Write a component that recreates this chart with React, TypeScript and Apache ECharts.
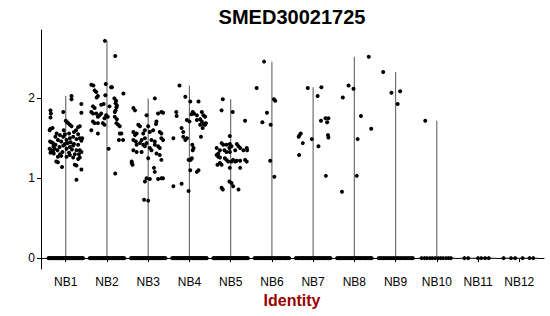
import React, { useEffect, useRef } from 'react';
import * as echarts from 'echarts';

const title = 'SMED30021725';
const xAxisTitle = 'Identity';
const categories = ['NB1', 'NB2', 'NB3', 'NB4', 'NB5', 'NB6', 'NB7', 'NB8', 'NB9', 'NB10', 'NB11', 'NB12'];
const yTicks = [0, 1, 2];

// non-zero cells: [horizontal jitter, expression]
const nb1Points: [number, number][] = [
  [0.14, 2.03], [0.14, 1.99], [0.38, 1.93], [-0.06, 1.83], [-0.37, 1.85], [-0.36, 1.81], [-0.37, 1.76], [0.38, 1.82],
  [0.0, 1.72], [0.06, 1.69], [0.03, 1.7], [-0.37, 1.62], [-0.39, 1.6], [-0.32, 1.63], [0.14, 1.65], [0.1, 1.67],
  [0.34, 1.65], [0.3, 1.64], [-0.22, 1.56], [-0.14, 1.54], [-0.06, 1.52], [-0.02, 1.55], [-0.38, 1.46], [-0.35, 1.45],
  [-0.31, 1.44], [-0.19, 1.48], [-0.11, 1.46], [0.02, 1.48], [0.1, 1.5], [0.18, 1.52], [0.26, 1.49], [0.34, 1.5],
  [0.38, 1.47], [0.4, 1.5], [-0.39, 1.37], [-0.35, 1.35], [-0.31, 1.33], [-0.27, 1.37], [-0.15, 1.39], [-0.06, 1.41],
  [0.02, 1.37], [0.1, 1.39], [0.18, 1.41], [0.26, 1.35], [0.34, 1.35], [0.38, 1.33], [-0.37, 1.32], [-0.32, 1.34],
  [-0.29, 1.31], [-0.19, 1.27], [-0.11, 1.28], [0.02, 1.27], [0.1, 1.29], [0.18, 1.26], [0.3, 1.24], [0.34, 1.26],
  [-0.23, 1.21], [-0.19, 1.2], [-0.09, 1.14], [0.22, 1.17], [0.26, 1.16], [0.38, 1.11], [0.26, 0.98],
  [-0.25, 1.42], [-0.2, 1.35], [-0.08, 1.33], [0.05, 1.44], [0.12, 1.45], [0.2, 1.43], [0.3, 1.42], [-0.3, 1.4],
  [0.08, 1.32], [0.15, 1.36], [-0.02, 1.43], [0.22, 1.3], [-0.14, 1.3], [0.32, 1.3], [-0.05, 1.6], [0.2, 1.58],
  [0.25, 1.6], [-0.25, 1.52], [0.08, 1.56], [0.3, 1.55],
];
const nb2Points: [number, number][] = [
  [-0.05, 2.72], [0.2, 2.53], [-0.33, 2.16], [0.12, 2.14], [-0.38, 2.17], [-0.03, 2.18], [0.1, 2.14], [-0.3, 2.1],
  [-0.26, 2.08], [-0.22, 2.03], [-0.25, 2.01], [-0.04, 2.04], [0.18, 2.0], [0.22, 1.97], [0.21, 1.94], [0.24, 1.91],
  [0.4, 2.06], [-0.34, 1.9], [-0.3, 1.88], [-0.14, 1.92], [-0.08, 1.93], [0.06, 1.9], [0.23, 1.89], [0.21, 1.85],
  [0.19, 1.83], [-0.38, 1.83], [-0.34, 1.81], [-0.26, 1.81], [-0.18, 1.79], [-0.14, 1.81], [-0.22, 1.77], [-0.02, 1.79],
  [0.02, 1.77], [-0.06, 1.75], [0.19, 1.77], [0.24, 1.74], [-0.34, 1.71], [-0.3, 1.69], [-0.22, 1.69], [-0.1, 1.69],
  [-0.06, 1.67], [0.23, 1.69], [0.27, 1.67], [0.31, 1.65], [-0.38, 1.6], [-0.22, 1.56], [0.31, 1.56], [0.35, 1.56],
  [0.29, 1.48], [0.39, 1.48], [0.04, 1.37], [0.2, 1.06],
];
const nb3Points: [number, number][] = [
  [0.16, 2.0], [-0.36, 1.88], [-0.32, 1.85], [-0.04, 1.79], [0.24, 1.81], [0.32, 1.83], [0.36, 1.82], [-0.24, 1.67],
  [-0.2, 1.65], [0, 1.65], [0.2, 1.71], [0.19, 1.68], [-0.36, 1.58], [-0.28, 1.56], [-0.32, 1.54], [-0.12, 1.56],
  [-0.08, 1.6], [0.04, 1.58], [0.12, 1.6], [0.28, 1.58], [0.32, 1.56], [-0.36, 1.48], [-0.3, 1.46], [-0.16, 1.48],
  [-0.08, 1.5], [0.08, 1.48], [0.16, 1.46], [0.32, 1.5], [0.36, 1.48], [-0.28, 1.42], [-0.2, 1.44], [-0.12, 1.42],
  [-0.04, 1.44], [-0.08, 1.4], [0.16, 1.42], [0.24, 1.4], [0.28, 1.38], [-0.36, 1.35], [-0.28, 1.33], [-0.16, 1.33],
  [0.04, 1.38], [0.08, 1.35], [0.2, 1.31], [0.28, 1.29], [0, 1.25], [-0.4, 1.21], [-0.38, 1.17], [-0.4, 1.19],
  [0.32, 1.23], [0.14, 1.13], [0.16, 1.08], [-0.04, 1.0], [0.04, 0.99], [-0.08, 0.96], [0.24, 0.99], [0.32, 1.0],
  [0.36, 1.0], [-0.1, 0.73], [0, 0.72],
];
const nb4Points: [number, number][] = [
  [-0.24, 2.16], [-0.1, 2.02], [0.22, 1.96], [0.02, 1.96], [-0.32, 1.83], [-0.31, 1.78], [0.08, 1.83], [0.11, 1.81],
  [0.05, 1.8], [0.18, 1.79], [0.3, 1.83], [0.34, 1.79], [0.38, 1.77], [-0.06, 1.73], [0, 1.71], [0.18, 1.73],
  [0.26, 1.74], [0.3, 1.71], [0.34, 1.68], [0.26, 1.67], [0.38, 1.67], [0.4, 1.69], [0.32, 1.63], [-0.19, 1.63],
  [-0.15, 1.58], [-0.15, 1.52], [-0.06, 1.5], [-0.1, 1.48], [-0.39, 1.5], [0.28, 1.52], [0.07, 1.42], [0.1, 1.38],
  [0.08, 1.35], [0.06, 1.25], [0.03, 1.23], [-0.02, 1.23], [0.22, 1.1], [0.18, 1.08], [0.02, 1.1], [-0.39, 0.9],
  [-0.19, 0.93], [-0.02, 0.84],
];
const nb5Points: [number, number][] = [
  [-0.19, 1.99], [-0.22, 1.85], [0.05, 1.83], [0.35, 1.72], [-0.02, 1.53], [-0.22, 1.44], [-0.18, 1.42], [-0.1, 1.42],
  [-0.02, 1.43], [0.02, 1.4], [-0.03, 1.38], [0.15, 1.43], [0.19, 1.4], [-0.34, 1.38], [-0.26, 1.35], [-0.3, 1.31],
  [-0.15, 1.35], [-0.1, 1.33], [-0.02, 1.33], [0.11, 1.35], [0.23, 1.38], [0.31, 1.35], [0.39, 1.38], [0.4, 1.35],
  [-0.34, 1.29], [-0.3, 1.27], [-0.26, 1.26], [-0.14, 1.25], [-0.1, 1.23], [-0.06, 1.21], [0.02, 1.21], [0.06, 1.23],
  [0.11, 1.21], [0.15, 1.22], [0.23, 1.22], [0.35, 1.23], [0.39, 1.21], [-0.32, 1.17], [-0.26, 1.19], [-0.22, 1.17],
  [-0.02, 1.13], [0.23, 1.13], [-0.22, 0.88], [-0.19, 0.86], [-0.03, 0.96], [0.02, 0.94], [0.06, 0.9], [0.19, 0.86],
];
const nb6Points: [number, number][] = [
  [-0.19, 2.46], [-0.37, 2.13], [0.05, 1.99], [0.08, 1.97], [-0.12, 1.82], [-0.23, 1.7], [-0.03, 1.67], [-0.04, 1.22],
  [0.06, 1.02],
];
const nb7Points: [number, number][] = [
  [-0.13, 2.13], [0.2, 2.14], [0.11, 2.03], [0.19, 1.72], [0.3, 1.75], [0.37, 1.75], [0.34, 1.7], [-0.3, 1.56],
  [-0.33, 1.54], [-0.35, 1.52], [-0.25, 1.44], [-0.03, 1.49], [0.36, 1.54], [0.37, 1.51], [0.13, 1.4], [-0.34, 1.29],
  [0.31, 1.03],
];
const nb8Points: [number, number][] = [
  [0.35, 2.52], [-0.14, 2.16], [-0.02, 2.12], [-0.28, 2.01], [0.16, 1.78], [0.41, 1.62], [0.08, 1.49], [0.06, 1.03],
  [-0.3, 0.83],
];
const nb9Points: [number, number][] = [[-0.3, 2.33], [-0.1, 2.07], [0.11, 2.09], [0.05, 1.93]];
const nb10Points: [number, number][] = [[-0.28, 1.72]];
const nb11Points: [number, number][] = [];
const nb12Points: [number, number][] = [];

// cells with zero expression: horizontal jitter only
const nb1Zero = [-0.42, -0.4, -0.37, -0.35, -0.33, -0.3, -0.28, -0.26, -0.23, -0.21, -0.19, -0.16, -0.14, -0.12, -0.09, -0.07, -0.05, -0.02, 0.0, 0.03, 0.05, 0.07, 0.1, 0.12, 0.14, 0.17, 0.19, 0.21, 0.24, 0.26, 0.28, 0.31, 0.33, 0.35, 0.38, 0.4, 0.42];
const nb2Zero = [-0.42, -0.39, -0.37, -0.34, -0.32, -0.3, -0.27, -0.25, -0.22, -0.2, -0.18, -0.15, -0.13, -0.1, -0.08, -0.06, -0.03, -0.01, 0.02, 0.04, 0.06, 0.09, 0.11, 0.13, 0.16, 0.18, 0.21, 0.23, 0.25, 0.28, 0.3, 0.32, 0.35, 0.37, 0.39, 0.42];
const nb3Zero = [-0.42, -0.4, -0.38, -0.35, -0.33, -0.31, -0.28, -0.26, -0.24, -0.21, -0.19, -0.17, -0.14, -0.12, -0.1, -0.07, -0.05, -0.03, 0.0, 0.02, 0.05, 0.07, 0.09, 0.12, 0.14, 0.16, 0.19, 0.21, 0.23, 0.26, 0.28, 0.3, 0.33, 0.35, 0.37, 0.4, 0.42];
const nb4Zero = [-0.42, -0.39, -0.37, -0.35, -0.32, -0.3, -0.28, -0.25, -0.23, -0.21, -0.18, -0.16, -0.13, -0.11, -0.09, -0.06, -0.04, -0.02, 0.01, 0.03, 0.06, 0.08, 0.1, 0.13, 0.15, 0.17, 0.2, 0.22, 0.24, 0.27, 0.29, 0.31, 0.34, 0.36, 0.38, 0.41, 0.42];
const nb5Zero = [-0.42, -0.4, -0.38, -0.36, -0.33, -0.31, -0.29, -0.26, -0.24, -0.22, -0.19, -0.17, -0.15, -0.12, -0.1, -0.08, -0.05, -0.03, 0.0, 0.02, 0.04, 0.07, 0.09, 0.11, 0.14, 0.16, 0.18, 0.21, 0.23, 0.25, 0.28, 0.3, 0.32, 0.35, 0.37, 0.39, 0.42];
const nb6Zero = [-0.42, -0.39, -0.36, -0.33, -0.3, -0.27, -0.24, -0.21, -0.18, -0.15, -0.12, -0.09, -0.06, -0.03, 0.0, 0.03, 0.06, 0.09, 0.12, 0.15, 0.18, 0.21, 0.24, 0.27, 0.3, 0.33, 0.36, 0.39, 0.42];
const nb7Zero = [-0.42, -0.38, -0.35, -0.32, -0.29, -0.26, -0.23, -0.2, -0.17, -0.14, -0.11, -0.08, -0.05, -0.02, 0.01, 0.04, 0.07, 0.1, 0.13, 0.16, 0.19, 0.22, 0.25, 0.28, 0.31, 0.34, 0.37, 0.4, 0.42];
const nb8Zero = [-0.42, -0.39, -0.36, -0.33, -0.3, -0.27, -0.24, -0.21, -0.18, -0.15, -0.12, -0.09, -0.06, -0.03, 0.0, 0.03, 0.06, 0.09, 0.12, 0.15, 0.18, 0.21, 0.24, 0.27, 0.3, 0.33, 0.36, 0.39, 0.42];
const nb9Zero = [-0.41, -0.37, -0.33, -0.29, -0.25, -0.21, -0.17, -0.13, -0.09, -0.05, -0.01, 0.03, 0.07, 0.11, 0.15, 0.19, 0.23, 0.27, 0.31, 0.35, 0.39, 0.42];
const nb10Zero = [-0.37, -0.3, -0.24, -0.17, -0.11, -0.04, 0.03, 0.09, 0.15, 0.22, 0.28, 0.34];
const nb11Zero = [-0.33, -0.24, 0.0, 0.08, 0.17, 0.26];
const nb12Zero = [-0.38, -0.2, -0.1, 0.08, 0.25, 0.34];

const groupPoints = [nb1Points, nb2Points, nb3Points, nb4Points, nb5Points, nb6Points, nb7Points, nb8Points, nb9Points, nb10Points, nb11Points, nb12Points];
const groupZeros = [nb1Zero, nb2Zero, nb3Zero, nb4Zero, nb5Zero, nb6Zero, nb7Zero, nb8Zero, nb9Zero, nb10Zero, nb11Zero, nb12Zero];

const FONT = "'Liberation Sans', Arial, Helvetica, sans-serif";

export default function App() {
  const ref = useRef<HTMLDivElement>(null);
  useEffect(() => {
    if (!ref.current) return;
    const chart = echarts.init(ref.current, null, { renderer: 'svg' });

    const allValues = groupPoints.flatMap((g) => g.map((p) => p[1]));
    const dataMax = Math.max(...allValues);
    const pad = dataMax * 0.05;

    const nonZero = groupPoints.flatMap((g, i) => g.map(([j, v]) => [i + 1 + j, v]));
    const zeros = groupZeros.flatMap((g, i) => g.map((j) => [i + 1 + j, 0]));
    const violins = groupPoints.map((g, i) => [i + 1, g.length ? Math.max(...g.map((p) => p[1])) : 0]);
    const catPositions = categories.map((_, i) => i + 1);

    chart.setOption({
      animation: false,
      textStyle: { fontFamily: FONT },
      grid: { left: 41, right: 6, top: 30, bottom: 47, containLabel: false },
      xAxis: {
        type: 'value',
        min: 0.4,
        max: categories.length + 0.6,
        splitLine: { show: false },
        axisLine: { show: true, lineStyle: { color: '#000', width: 1 } },
        axisTick: { show: true, length: 4, customValues: catPositions, lineStyle: { color: '#000' } },
        axisLabel: {
          customValues: catPositions,
          formatter: (v: number) => categories[Math.round(v) - 1] ?? '',
          color: '#000',
          fontSize: 12,
          margin: 7,
          fontFamily: FONT,
        },
      },
      yAxis: {
        type: 'value',
        min: -pad,
        max: dataMax + pad,
        splitLine: { show: false },
        axisLine: { show: true, lineStyle: { color: '#000', width: 1 } },
        axisTick: { show: true, length: 4, customValues: yTicks, lineStyle: { color: '#000' } },
        axisLabel: { customValues: yTicks, color: '#000', fontSize: 12, margin: 6, fontFamily: FONT },
      },
      graphic: [
        {
          type: 'text',
          x: 292,
          y: 17,
          style: { text: title, font: `bold 20px ${FONT}`, fill: '#000', textAlign: 'center', textVerticalAlign: 'middle' },
        },
        {
          type: 'text',
          x: 292,
          y: 300,
          style: { text: xAxisTitle, font: `bold 16px ${FONT}`, fill: '#990000', textAlign: 'center', textVerticalAlign: 'middle' },
        },
      ],
      series: [
        {
          type: 'custom',
          data: violins,
          z: 1,
          renderItem: (params: any, api: any) => {
            const x = api.value(0);
            const top = api.value(1);
            const base = api.coord([x, 0]);
            const tp = api.coord([x, top]);
            const l = api.coord([x - 0.45, 0]);
            const r = api.coord([x + 0.45, 0]);
            const children: any[] = [
              { type: 'line', shape: { x1: l[0], y1: l[1], x2: r[0], y2: r[1] }, style: { stroke: '#555', lineWidth: 1 } },
            ];
            if (top > 0) {
              children.push({ type: 'line', shape: { x1: base[0], y1: base[1], x2: tp[0], y2: tp[1] }, style: { stroke: '#6e6e6e', lineWidth: 1.2 } });
            }
            return { type: 'group', children };
          },
        },
        {
          type: 'scatter',
          data: zeros,
          symbolSize: 4,
          itemStyle: { color: '#000', opacity: 1 },
          z: 2,
          silent: true,
        },
        {
          type: 'scatter',
          data: nonZero,
          symbolSize: 4,
          itemStyle: { color: '#000', opacity: 1 },
          z: 3,
          silent: true,
        },
      ],
    });
    return () => chart.dispose();
  }, []);
  return <div ref={ref} style={{ position: 'absolute', left: 0, top: 0, width: 550, height: 316 }} />;
}
